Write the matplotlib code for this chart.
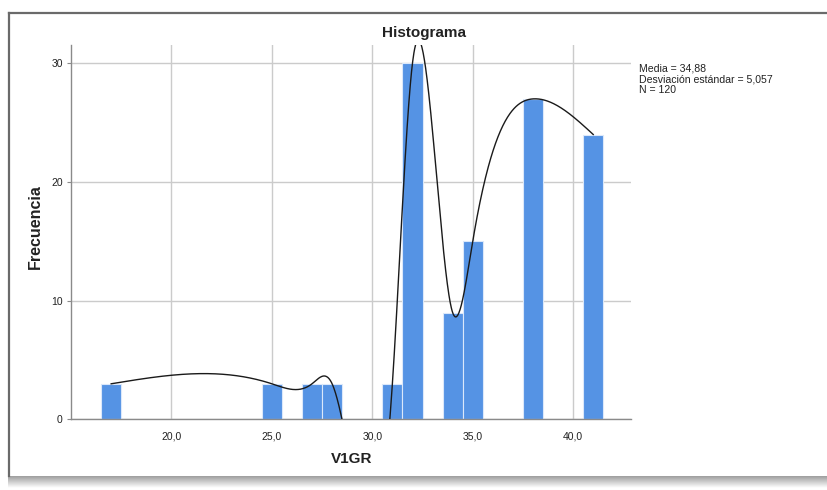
import numpy as np
import matplotlib
matplotlib.use("Agg")
import matplotlib.pyplot as plt
from matplotlib.lines import Line2D

plt.rcParams["font.family"] = ["Liberation Sans", "DejaVu Sans"]

# data (bin centre -> frequency)
values = [17, 25, 27, 28, 31, 32, 34, 35, 38, 41]
counts = [3, 3, 3, 3, 3, 30, 9, 15, 27, 24]
xticks = [20, 25, 30, 35, 40]
yticks = [0, 10, 20, 30]
stats_lines = ["Media = 34,88", "Desviación estándar = 5,057", "N = 120"]

BLUE = "#5593e4"
GRID = "#cbcbcb"
SPINE = "#8a8a8a"
INK = "#222222"


def natural_spline(x, y, xs):
    x = np.asarray(x, float)
    y = np.asarray(y, float)
    n = len(x)
    h = np.diff(x)
    A = np.zeros((n, n))
    r = np.zeros(n)
    A[0, 0] = A[-1, -1] = 1
    for i in range(1, n - 1):
        A[i, i - 1] = h[i - 1]
        A[i, i] = 2 * (h[i - 1] + h[i])
        A[i, i + 1] = h[i]
        r[i] = 3 * ((y[i + 1] - y[i]) / h[i] - (y[i] - y[i - 1]) / h[i - 1])
    c = np.linalg.solve(A, r)
    b = (y[1:] - y[:-1]) / h - h * (2 * c[:-1] + c[1:]) / 3
    d = (c[1:] - c[:-1]) / (3 * h)
    idx = np.clip(np.searchsorted(x, xs) - 1, 0, n - 2)
    t = xs - x[idx]
    return y[idx] + b[idx] * t + c[idx] * t ** 2 + d[idx] * t ** 3


fig = plt.figure(figsize=(8.27, 4.90), dpi=100)
ax = fig.add_axes([71 / 827, 1 - 419.4 / 490, 560 / 827, (419.4 - 45) / 490])

ax.bar(values, counts, width=1.0, color=BLUE, edgecolor="#dbe8fa",
       linewidth=0.8, zorder=2)

xs = np.linspace(values[0], values[-1], 1200)
ax.plot(xs, natural_spline(values, counts, xs), color="#1a1a1a", lw=1.0,
        zorder=3)

ax.set_xlim(15.0, 42.88)
ax.set_ylim(0, 31.54)
ax.set_xticks(xticks)
ax.set_xticklabels([f"{v:.1f}".replace(".", ",") for v in xticks])
ax.set_yticks(yticks)
ax.tick_params(axis="x", length=0, pad=9, labelsize=7.5, colors=INK)
ax.tick_params(axis="y", length=3, width=0.8, color=SPINE, pad=3,
               labelsize=7.5, labelcolor=INK)
ax.grid(True, color=GRID, lw=1.0, zorder=0)
ax.set_axisbelow(True)
for side in ("top", "right"):
    ax.spines[side].set_visible(False)
for side in ("left", "bottom"):
    ax.spines[side].set_color(SPINE)
    ax.spines[side].set_linewidth(1.0)

fig.text(424 / 827, 1 - 33 / 490, "Histograma", ha="center", va="center",
         fontsize=11, fontweight="bold", color=INK)
fig.text(35 / 827, 1 - 227 / 490, "Frecuencia", ha="center", va="center",
         rotation=90, fontsize=11.5, fontweight="bold", color=INK)
fig.text(352 / 827, 1 - 459 / 490, "V1GR", ha="center", va="center",
         fontsize=11, fontweight="bold", color=INK)
fig.text(639 / 827, 1 - 63.5 / 490, "\n".join(stats_lines), ha="left",
         va="top", fontsize=7.6, color=INK, linespacing=1.1)

# viewer frame: left/top border and bottom shadow
fig.add_artist(Line2D([8.5 / 827, 8.5 / 827], [1 - 476 / 490, 1 - 13 / 490],
                      transform=fig.transFigure, color="#6a6a6a", lw=1.6))
fig.add_artist(Line2D([8.5 / 827, 1.0], [1 - 13 / 490, 1 - 13 / 490],
                      transform=fig.transFigure, color="#6a6a6a", lw=1.6))
sh = fig.add_axes([8 / 827, 1 - 488 / 490, 819 / 827, 12 / 490])
grad = np.linspace(0.62, 1.0, 40)[:, None]
sh.imshow(np.repeat(grad, 2, axis=1), cmap="gray", vmin=0, vmax=1,
          aspect="auto", extent=(0, 1, 0, 1), origin="upper")
sh.axis("off")

fig.savefig("out.png", dpi=100)
